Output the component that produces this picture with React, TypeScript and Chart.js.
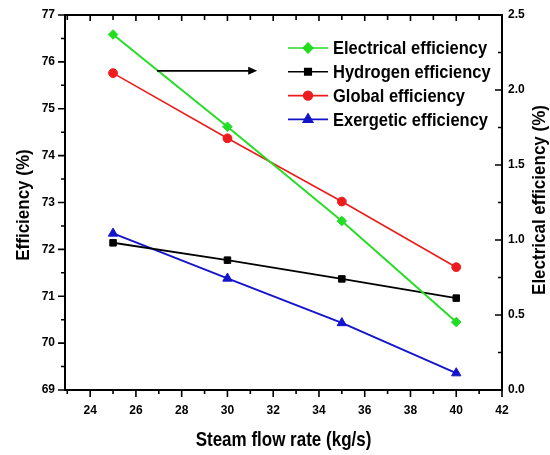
import React, { useEffect, useRef } from "react";
import { Chart, registerables } from "chart.js";
import { drawPoint } from "chart.js/helpers";

Chart.register(...registerables);

// ---- data ----
const steamFlow = [25, 30, 35, 40];
const electricalEff = [2.37, 1.755, 1.127, 0.453]; // right axis
const hydrogenEff = [72.14, 71.77, 71.37, 70.96];
const globalEff = [75.76, 74.37, 73.02, 71.62];
const exergeticEff = [72.34, 71.38, 70.43, 69.36];

const xTicks = [24, 26, 28, 30, 32, 34, 36, 38, 40, 42];
const yLeftTicks = [69, 70, 71, 72, 73, 74, 75, 76, 77];
const yRightTicks = [0, 0.5, 1, 1.5, 2, 2.5];

const seriesLabels = [
  "Electrical efficiency",
  "Hydrogen efficiency",
  "Global efficiency",
  "Exergetic efficiency",
];
const seriesColors = ["#22dd22", "#000000", "#ee1c1c", "#1414cc"];
const seriesStyles = ["rectRot", "rect", "circle", "triangle"];
const seriesRadius = [4.8, 4.6, 4.4, 5.4];

const xTitle = "Steam flow rate (kg/s)";
const yLeftTitle = "Efficiency (%)";
const yRightTitle = "Electrical efficiency (%)";

const FONT = "'Liberation Sans', Arial, sans-serif";

const toPts = (ys: number[]) => steamFlow.map((x, i) => ({ x, y: ys[i] }));

function tallText(ctx: any, text: string, x: number, y: number, rot: number, sy: number) {
  ctx.save();
  ctx.translate(x, y);
  if (rot) ctx.rotate(rot);
  ctx.scale(1, sy);
  ctx.fillText(text, 0, 0);
  ctx.restore();
}

const decorPlugin = {
  id: "decor",
  afterDraw(chart: any) {
    const { ctx, chartArea: a, scales } = chart;
    const xs = scales.x, yl = scales.y, yr = scales.y2;
    ctx.save();
    ctx.strokeStyle = "#000";
    ctx.fillStyle = "#000";
    // frame
    ctx.lineWidth = 2;
    ctx.strokeRect(a.left, a.top, a.right - a.left, a.bottom - a.top);
    ctx.lineWidth = 1.6;
    ctx.beginPath();
    // bottom (outward) + top (inward)
    for (let v = 23; v <= 42; v++) {
      const px = xs.getPixelForValue(v);
      const major = v % 2 === 0;
      ctx.moveTo(px, a.bottom);
      ctx.lineTo(px, a.bottom + (major ? 7 : 4));
      ctx.moveTo(px, a.top);
      ctx.lineTo(px, a.top + (major ? 6 : 5));
    }
    // left (outward)
    for (let v = 69; v <= 77.001; v += 0.5) {
      const py = yl.getPixelForValue(v);
      const major = Math.abs(v - Math.round(v)) < 1e-6;
      ctx.moveTo(a.left, py);
      ctx.lineTo(a.left - (major ? 7 : 4), py);
    }
    // right (inward)
    for (let v = 0; v <= 2.5001; v += 0.25) {
      const py = yr.getPixelForValue(v);
      const major = Math.abs(v * 2 - Math.round(v * 2)) < 1e-6;
      ctx.moveTo(a.right, py);
      ctx.lineTo(a.right - (major ? 7 : 4), py);
    }
    ctx.stroke();

    // arrow pointing to right axis
    const ay = yl.getPixelForValue(75.81);
    const ax0 = xs.getPixelForValue(26.92);
    const ax1 = xs.getPixelForValue(31.3);
    ctx.lineWidth = 1.8;
    ctx.beginPath();
    ctx.moveTo(ax0, ay);
    ctx.lineTo(ax1 - 6, ay);
    ctx.stroke();
    ctx.beginPath();
    ctx.moveTo(ax1, ay);
    ctx.lineTo(ax1 - 9, ay - 4);
    ctx.lineTo(ax1 - 9, ay + 4);
    ctx.closePath();
    ctx.fill();

    // legend
    ctx.font = `bold 16.5px ${FONT}`;
    ctx.textBaseline = "middle";
    ctx.textAlign = "left";
    seriesLabels.forEach((lab, i) => {
      const y = 48 + i * 23.8;
      ctx.strokeStyle = seriesColors[i];
      ctx.lineWidth = 1.6;
      ctx.beginPath();
      ctx.moveTo(288, y);
      ctx.lineTo(328, y);
      ctx.stroke();
      ctx.fillStyle = seriesColors[i];
      drawPoint(ctx, { pointStyle: seriesStyles[i], radius: seriesRadius[i], borderWidth: 1, rotation: 0 } as any, 308, y);
      ctx.fillStyle = "#000";
      tallText(ctx, lab, 333, y + 1, 0, 1.15);
    });

    // axis titles
    ctx.fillStyle = "#000";
    ctx.font = `bold 17px ${FONT}`;
    ctx.textAlign = "center";
    ctx.textBaseline = "middle";
    tallText(ctx, xTitle, (a.left + a.right) / 2, 441, 0, 1.15);
    tallText(ctx, yLeftTitle, 24, 205, -Math.PI / 2, 1.1);
    tallText(ctx, yRightTitle, 540, 200, -Math.PI / 2, 1.1);
    ctx.restore();
  },
};

const fixSize = (w?: number, h?: number) => (s: any) => {
  if (w !== undefined) s.width = w;
  if (h !== undefined) s.height = h;
  s.paddingLeft = 0;
  s.paddingRight = 0;
  s.paddingTop = 0;
  s.paddingBottom = 0;
};

export default function App() {
  const ref = useRef<HTMLCanvasElement | null>(null);
  useEffect(() => {
    if (!ref.current) return;
    const dsData = [electricalEff, hydrogenEff, globalEff, exergeticEff];
    const chart = new Chart(ref.current, {
      type: "line",
      data: {
        datasets: seriesLabels.map((label, i) => ({
          label,
          data: toPts(dsData[i]),
          yAxisID: i === 0 ? "y2" : "y",
          borderColor: seriesColors[i],
          backgroundColor: seriesColors[i],
          pointBackgroundColor: seriesColors[i],
          pointBorderColor: seriesColors[i],
          pointStyle: seriesStyles[i] as any,
          pointRadius: seriesRadius[i],
          pointBorderWidth: 1,
          borderWidth: i === 2 ? 1.6 : 1.9,
          tension: 0,
          fill: false,
        })),
      },
      options: {
        animation: false,
        responsive: true,
        maintainAspectRatio: false,
        layout: { padding: { top: 15, left: 0, right: 0, bottom: 0 } },
        plugins: { legend: { display: false }, tooltip: { enabled: false } },
        scales: {
          x: {
            type: "linear",
            position: "bottom",
            min: 22.9,
            max: 42,
            afterBuildTicks: (s: any) => {
              s.ticks = xTicks.map((value) => ({ value }));
            },
            afterFit: fixSize(undefined, 65),
            grid: { display: false, drawTicks: false },
            border: { display: false },
            ticks: {
              color: "#000",
              padding: 13,
              font: { family: FONT, size: 12, weight: "bold" },
              maxRotation: 0,
              autoSkip: false,
            },
          },
          y: {
            type: "linear",
            position: "left",
            min: 69,
            max: 77,
            afterBuildTicks: (s: any) => {
              s.ticks = yLeftTicks.map((value) => ({ value }));
            },
            afterFit: fixSize(65),
            grid: { display: false, drawTicks: false },
            border: { display: false },
            ticks: {
              color: "#000",
              padding: 10,
              font: { family: FONT, size: 12, weight: "bold" },
            },
          },
          y2: {
            type: "linear",
            position: "right",
            min: 0,
            max: 2.5,
            afterBuildTicks: (s: any) => {
              s.ticks = yRightTicks.map((value) => ({ value }));
            },
            afterFit: fixSize(48),
            grid: { display: false, drawTicks: false },
            border: { display: false },
            ticks: {
              color: "#000",
              padding: 6,
              font: { family: FONT, size: 12, weight: "bold" },
              callback: (v: any) => Number(v).toFixed(1),
            },
          },
        },
      },
      plugins: [decorPlugin],
    });
    return () => chart.destroy();
  }, []);

  return (
    <div style={{ position: "absolute", left: 0, top: 0, width: 550, height: 455, background: "#fff" }}>
      <canvas ref={ref} />
    </div>
  );
}
